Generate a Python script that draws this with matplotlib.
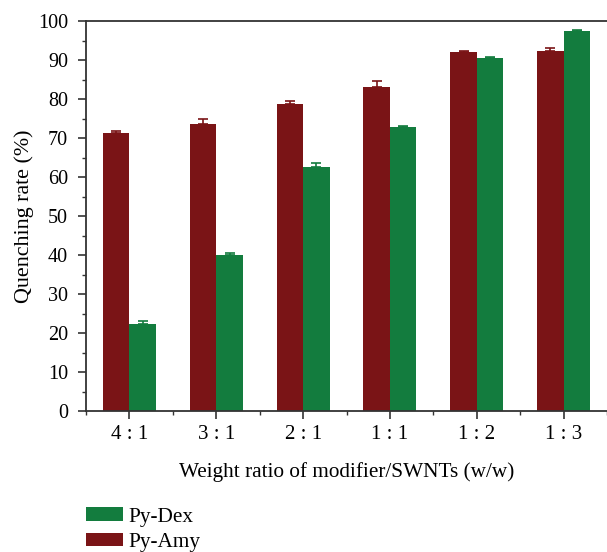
import numpy as np
import matplotlib.pyplot as plt
from matplotlib.ticker import MultipleLocator

plt.rcParams['font.family'] = ['Liberation Serif', 'DejaVu Serif']

# Datos
ratios = ['4 : 1', '3 : 1', '2 : 1', '1 : 1', '1 : 2', '1 : 3']
amy = [71.2, 73.7, 78.6, 83.0, 92.0, 92.4]
amy_err = [0.7, 1.1, 0.9, 1.5, 0.4, 0.8]
dex = [22.4, 40.0, 62.5, 72.9, 90.4, 97.5]
dex_err = [0.7, 0.6, 1.2, 0.3, 0.3, 0.3]

c_amy = '#7a1416'
c_dex = '#137c3e'

fig = plt.figure(figsize=(6.07, 5.52), dpi=100)
ax = fig.add_axes([0.1417, 0.2554, 0.8583, 0.7065])

x = np.arange(len(ratios))
w = 0.305
ax.bar(x - w/2, amy, w, color=c_amy, label='Py-Amy',
       yerr=[np.zeros(len(amy)), amy_err], ecolor=c_amy,
       error_kw=dict(capsize=3.5, elinewidth=1.2, capthick=1.2))
ax.bar(x + w/2, dex, w, color=c_dex, label='Py-Dex',
       yerr=[np.zeros(len(dex)), dex_err], ecolor=c_dex,
       error_kw=dict(capsize=3.5, elinewidth=1.2, capthick=1.2))

ax.set_xlim(-0.5, 5.5)
ax.set_ylim(0, 100)
ax.set_xticks(x)
ax.set_xticklabels(ratios)
ax.set_xticks(np.arange(-0.5, 6, 1), minor=True)
ax.yaxis.set_major_locator(MultipleLocator(10))
ax.yaxis.set_minor_locator(MultipleLocator(5))

for s in ['left', 'bottom', 'top']:
    ax.spines[s].set_color('#333333')
    ax.spines[s].set_linewidth(1.3)
ax.spines['right'].set_visible(False)

ax.tick_params(axis='both', which='major', length=6, width=1.2,
               color='#333333', labelsize=14.5)
ax.tick_params(axis='both', which='minor', length=3, width=1.0,
               color='#333333')
ax.tick_params(axis='x', which='major', pad=4, labelsize=15)
ax.tick_params(axis='y', which='major', pad=7)

ax.set_xlabel('Weight ratio of modifier/SWNTs (w/w)', fontsize=15.3, labelpad=13)
ax.set_ylabel('Quenching rate (%)', fontsize=15.8, labelpad=3)

# Leyenda debajo del grafico
h, l = ax.get_legend_handles_labels()
fig.legend(h[::-1], l[::-1], loc='upper left', bbox_to_anchor=(0.141, 0.081),
           frameon=False, fontsize=15.3, handlelength=1.75, handleheight=0.62,
           handletextpad=0.25, labelspacing=0.28, borderaxespad=0, borderpad=0)

fig.savefig('out.png', dpi=100)
